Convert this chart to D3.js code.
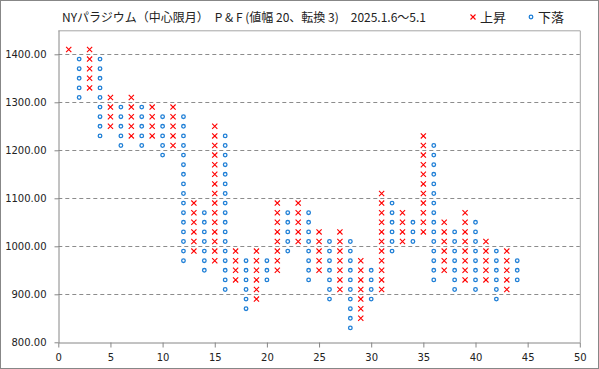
<!DOCTYPE html>
<html lang="ja">
<head>
<meta charset="UTF-8">
<title>NYパラジウム P&F</title>
<script src="https://d3js.org/d3.v7.min.js"></script>
<style>
    body { margin: 0; background: #fff; }
    text { font-family: "DejaVu Sans", sans-serif; fill: #222; }
</style>
</head>
<body>
<svg id="main" width="599" height="369"></svg>
<script>
    // P&F columns, box size 20, reversal 3
    let colType = ['X','O','X','O','X','O','X','O','X','O','X','O','X','O','X','O','X','O','X','O','X','O',
                   'X','O','X','O','X','O','X','O','X','O','X','O','X','O','X','O','X','O','X','O','X','O'];
    let colHigh = [1410,1390,1410,1390,1310,1290,1310,1290,1290,1270,1290,1270,1090,1070,1250,1230,990,970,990,970,1090,1070,
                   1090,1070,1030,1010,1030,1010,970,950,1110,1090,1070,1050,1230,1210,1050,1030,1070,1050,1010,990,990,970];
    let colLow  = [1410,1310,1330,1230,1250,1210,1230,1210,1230,1190,1210,970,990,950,970,910,930,870,890,930,950,990,
                   1010,930,950,890,910,830,850,890,910,990,1010,1010,1030,930,950,910,930,910,930,890,910,930];
    let boxSize = 20;
    let xTicks = [0,5,10,15,20,25,30,35,40,45,50];
    let yTicks = [800,900,1000,1100,1200,1300,1400];
    let title = 'NYパラジウム（中心限月）　P & F (値幅 20、転換 3)　2025.1.6～5.1';
    let legendNames = ['上昇','下落'];

    let svg = d3.select('svg#main');
    let W = 599, H = 369;
    let plot = {left: 58.3, right: 579.8, top: 30.3, bottom: 342.3};

    // outer frame
    svg.append('rect').attr('x',0.5).attr('y',0.5).attr('width',W-1).attr('height',H-1)
        .style('fill','white').style('stroke','#878787');

    let xScale = d3.scaleLinear().domain([0,50]).range([plot.left, plot.right]);
    let yScale = d3.scaleLinear().domain([800,1450]).range([plot.bottom, plot.top]);

    // plot area border (top/right)
    svg.append('path')
        .attr('d', 'M'+plot.left+','+(plot.top+0.5)+'H'+(plot.right+0.5)+'V'+plot.bottom)
        .style('fill','none').style('stroke','#a6a6a6');

    // gridlines
    svg.append('g').selectAll('line').data(yTicks.filter(function(d){return d > 800;}))
        .join('line')
        .attr('x1', plot.left).attr('x2', plot.right)
        .attr('y1', function(d){return Math.round(yScale(d))+0.5;})
        .attr('y2', function(d){return Math.round(yScale(d))+0.5;})
        .style('stroke','#8c8c8c').style('stroke-dasharray','4,3');

    // axes
    let xAxis = svg.append('g')
        .attr('transform','translate(0,'+(Math.round(plot.bottom)+0.5)+')')
        .call(d3.axisBottom(xScale).tickValues(xTicks).tickSize(5).tickPadding(6).tickSizeOuter(0));
    let yAxis = svg.append('g')
        .attr('transform','translate('+(Math.round(plot.left)+0.5)+',0)')
        .call(d3.axisLeft(yScale).tickValues(yTicks).tickFormat(d3.format('.2f')).tickSize(4).tickPadding(8).tickSizeOuter(0));
    svg.selectAll('.domain').style('stroke','#868686');
    svg.selectAll('.tick line').style('stroke','#868686');
    svg.selectAll('.tick text').style('font-family','"DejaVu Sans", sans-serif').style('font-size','10px').style('fill','#222');

    // build boxes for each column
    let boxes = [];
    colType.forEach(function(t, i){
        for (let v = colLow[i]; v <= colHigh[i]; v += boxSize) {
            boxes.push({col: i+1, v: v, type: t});
        }
    });

    let s = 2.6;
    let fig = svg.append('g');
    fig.selectAll('path.x').data(boxes.filter(function(d){return d.type === 'X';}))
        .join('path').attr('class','x')
        .attr('d', function(d){
            let cx = xScale(d.col), cy = yScale(d.v);
            return 'M'+(cx-s)+','+(cy-s)+'L'+(cx+s)+','+(cy+s)+'M'+(cx-s)+','+(cy+s)+'L'+(cx+s)+','+(cy-s);
        })
        .style('stroke','#ff0000').style('stroke-width','1.1px');
    fig.selectAll('circle.o').data(boxes.filter(function(d){return d.type === 'O';}))
        .join('circle').attr('class','o')
        .attr('cx', function(d){return xScale(d.col);})
        .attr('cy', function(d){return yScale(d.v);})
        .attr('r', 1.8)
        .style('fill','white').style('stroke','#1f7fd6').style('stroke-width','1.3px');

    // title
    svg.append('text').attr('x',62).attr('y',21.5)
        .style('font-family','"Noto Sans CJK JP", sans-serif').style('font-size','12px')
        .text(title);

    // legend
    let lg = svg.append('g');
    let lx = 473, ly = 17;
    lg.append('path')
        .attr('d','M'+(lx-2.5)+','+(ly-2.5)+'L'+(lx+2.5)+','+(ly+2.5)+'M'+(lx-2.5)+','+(ly+2.5)+'L'+(lx+2.5)+','+(ly-2.5))
        .style('stroke','#ff0000').style('stroke-width','1.1px');
    lg.append('text').attr('x',lx+7).attr('y',ly+4.5)
        .style('font-family','"Noto Sans CJK JP", sans-serif').style('font-size','13px')
        .text(legendNames[0]);
    lg.append('circle').attr('cx',531).attr('cy',ly).attr('r',1.8)
        .style('fill','white').style('stroke','#1f7fd6').style('stroke-width','1.3px');
    lg.append('text').attr('x',538).attr('y',ly+4.5)
        .style('font-family','"Noto Sans CJK JP", sans-serif').style('font-size','13px')
        .text(legendNames[1]);
</script>
</body>
</html>
